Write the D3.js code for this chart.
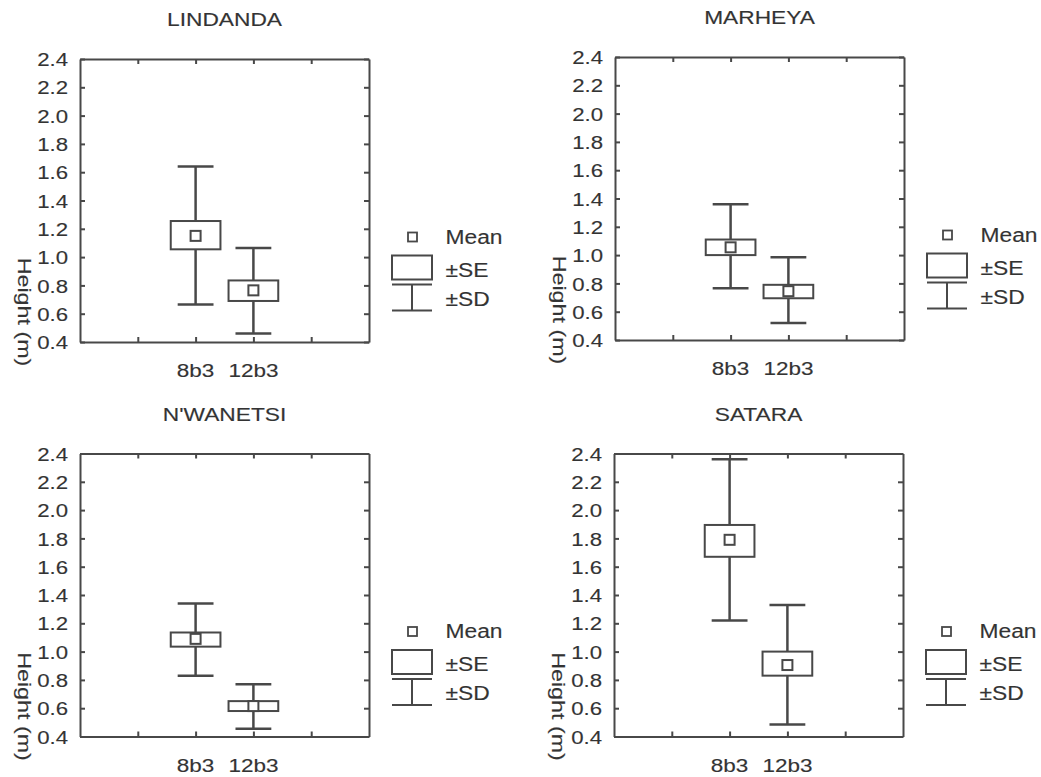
<!DOCTYPE html>
<html>
<head>
<meta charset="utf-8">
<script src="https://cdn.jsdelivr.net/npm/d3@7"></script>
<style>
  body { margin: 0; background: #fff; }
  text { font-family: "Liberation Sans", Arial, sans-serif; fill: #333; stroke: #444; stroke-width: 0.15px; }
</style>
</head>
<body>
<svg id="chart"></svg>
<script>
var sites = ["LINDANDA", "MARHEYA", "N'WANETSI", "SATARA"];
var treatments = ["8b3", "12b3"];
var means  = [[1.15, 0.765], [1.055, 0.745], [1.09, 0.615], [1.79, 0.905]];
var seLow  = [[1.055, 0.69], [1.0, 0.695], [1.035, 0.58], [1.67, 0.83]];
var seHigh = [[1.255, 0.835], [1.11, 0.79], [1.135, 0.65], [1.895, 1.0]];
var sdLow  = [[0.665, 0.46], [0.765, 0.52], [0.83, 0.455], [1.22, 0.485]];
var sdHigh = [[1.64, 1.065], [1.36, 0.985], [1.34, 0.77], [2.36, 1.33]];
var yTicks = [0.4, 0.6, 0.8, 1.0, 1.2, 1.4, 1.6, 1.8, 2.0, 2.2, 2.4];
var legendLabels = ["Mean", "\u00b1SE", "\u00b1SD"];

var width = 1041, height = 777;
var ink = "#484848";
var svg = d3.select("#chart").attr("width", width).attr("height", height);

// plot frame origin for each panel
var origins = [[80, 59], [615, 57], [80, 453.5], [614, 453.5]];
var pw = 289, ph = 283;

function wideText(g, x, y, str, size, sx, anchor) {
    return g.append("text")
        .attr("transform", "translate(" + x + "," + y + ") scale(" + sx + ",1)")
        .attr("font-size", size)
        .attr("text-anchor", anchor || "middle")
        .text(str);
}

sites.forEach(function (site, p) {
    var g = svg.append("g")
        .attr("transform", "translate(" + origins[p][0] + "," + origins[p][1] + ")");

    var x = d3.scaleLinear().domain([0, 5]).range([0, pw]);
    var y = d3.scaleLinear().domain([0.4, 2.4]).range([ph, 0]);
    var unit = x(1) - x(0);

    // axes, ticks pointing inwards on all four sides
    var left = g.append("g")
        .call(d3.axisLeft(y).tickValues(yTicks).tickSize(-5).tickSizeOuter(0).tickFormat(d3.format(".1f")));
    left.selectAll("text")
        .attr("x", -12 / 1.2)
        .attr("dy", "0.36em")
        .attr("transform", "scale(1.2,1)")
        .attr("font-size", 18.5)
        .attr("fill", "#333");

    g.append("g")
        .attr("transform", "translate(" + pw + ",0)")
        .call(d3.axisRight(y).tickValues(yTicks).tickSize(-5).tickSizeOuter(0).tickFormat(""));

    g.append("g")
        .call(d3.axisTop(x).tickValues([1, 2, 3, 4]).tickSize(-5).tickSizeOuter(0).tickFormat(""));

    g.append("g")
        .attr("transform", "translate(0," + ph + ")")
        .call(d3.axisBottom(x).tickValues([1, 2, 3, 4]).tickSize(-5).tickSizeOuter(0).tickFormat(""));

    g.selectAll(".domain, .tick line")
        .attr("stroke", ink)
        .attr("stroke-width", 2);

    treatments.forEach(function (t, i) {
        wideText(g, x(i + 2), ph + 35, t, 18, 1.25);
    });

    wideText(g, pw / 2, -33, site, 17.5, 1.3);

    // y axis title, reading downwards
    g.append("text")
        .attr("transform", "translate(-56," + (ph - 30) + ") rotate(90) scale(1.26,1)")
        .attr("font-size", 18.5)
        .attr("text-anchor", "middle")
        .attr("dy", "0.35em")
        .text("Height (m)");

    // whiskers and boxes
    var items = g.selectAll(".item")
        .data(treatments.map(function (t, i) {
            return { pos: i + 2, mean: means[p][i], seL: seLow[p][i], seH: seHigh[p][i], sdL: sdLow[p][i], sdH: sdHigh[p][i] };
        }))
        .enter().append("g")
        .attr("class", "item");

    items.append("line")
        .attr("x1", function (d) { return x(d.pos); })
        .attr("x2", function (d) { return x(d.pos); })
        .attr("y1", function (d) { return y(d.sdL); })
        .attr("y2", function (d) { return y(d.sdH); })
        .attr("stroke", ink).attr("stroke-width", 2.5);

    ["sdL", "sdH"].forEach(function (k) {
        items.append("line")
            .attr("x1", function (d) { return x(d.pos) - unit * 0.31; })
            .attr("x2", function (d) { return x(d.pos) + unit * 0.31; })
            .attr("y1", function (d) { return y(d[k]); })
            .attr("y2", function (d) { return y(d[k]); })
            .attr("stroke", ink).attr("stroke-width", 2.5);
    });

    items.append("rect")
        .attr("x", function (d) { return x(d.pos) - unit * 0.43; })
        .attr("width", unit * 0.86)
        .attr("y", function (d) { return y(d.seH); })
        .attr("height", function (d) { return y(d.seL) - y(d.seH); })
        .attr("fill", "#fff")
        .attr("stroke", ink).attr("stroke-width", 2);

    items.append("rect")
        .attr("x", function (d) { return x(d.pos) - 5; })
        .attr("y", function (d) { return y(d.mean) - 5; })
        .attr("width", 10).attr("height", 10)
        .attr("fill", "#fff")
        .attr("stroke", ink).attr("stroke-width", 2);

    // legend
    var lg = g.append("g").attr("transform", "translate(" + (pw + 23) + "," + ph + ")");
    lg.append("rect")
        .attr("x", 16).attr("y", -109.5).attr("width", 9).attr("height", 9)
        .attr("fill", "#fff").attr("stroke", ink).attr("stroke-width", 1.8);
    lg.append("rect")
        .attr("x", 0).attr("y", -86.5).attr("width", 40).attr("height", 24)
        .attr("fill", "#fff").attr("stroke", ink).attr("stroke-width", 2);
    lg.append("line").attr("x1", 0).attr("x2", 40).attr("y1", -57.5).attr("y2", -57.5)
        .attr("stroke", ink).attr("stroke-width", 2);
    lg.append("line").attr("x1", 0).attr("x2", 40).attr("y1", -31.5).attr("y2", -31.5)
        .attr("stroke", ink).attr("stroke-width", 2);
    lg.append("line").attr("x1", 20).attr("x2", 20).attr("y1", -57.5).attr("y2", -31.5)
        .attr("stroke", ink).attr("stroke-width", 2);

    [-105, -72, -43].forEach(function (ly, k) {
        wideText(lg, 53.5, ly, legendLabels[k], 19.5, 1.17, "start").attr("dy", "0.35em");
    });
});
</script>
</body>
</html>
